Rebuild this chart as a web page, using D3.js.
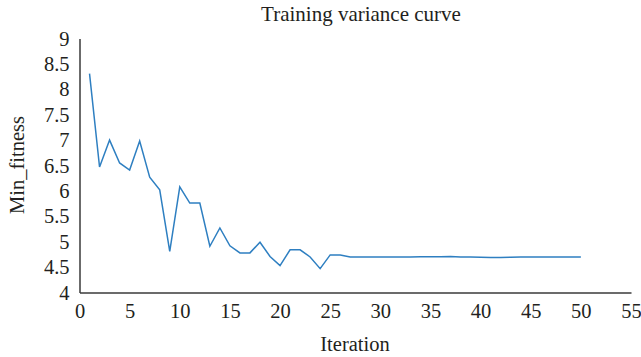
<!DOCTYPE html>
<html>
<head>
<meta charset="utf-8">
<script src="https://cdn.jsdelivr.net/npm/d3@7"></script>
<style>
  html, body { margin: 0; padding: 0; background: #fff; }
  text { font-family: "Liberation Serif", "DejaVu Serif", serif; fill: #231f20; }
</style>
</head>
<body>
<svg id="chart" width="641" height="357"></svg>
<script>
const iterations = d3.range(1, 51);
const minFitness = [
  8.31, 6.47, 7.00, 6.55, 6.41, 6.98, 6.27, 6.02, 4.81, 6.08,
  5.76, 5.76, 4.91, 5.27, 4.92, 4.78, 4.78, 4.99, 4.71, 4.53,
  4.84, 4.84, 4.70, 4.47, 4.74, 4.74, 4.70, 4.70, 4.70, 4.70,
  4.70, 4.70, 4.70, 4.705, 4.705, 4.705, 4.71, 4.70, 4.70, 4.695,
  4.69, 4.69, 4.695, 4.70, 4.70, 4.70, 4.70, 4.70, 4.70, 4.70
];
const xTicks = [0, 5, 10, 15, 20, 25, 30, 35, 40, 45, 50, 55];
const yTicks = [4, 4.5, 5, 5.5, 6, 6.5, 7, 7.5, 8, 8.5, 9];
const title = "Training variance curve";
const xLabel = "Iteration";
const yLabel = "Min_fitness";

const svg = d3.select("#chart");
const x = d3.scaleLinear().domain([0, 55]).range([79.5, 631]);
const y = d3.scaleLinear().domain([4, 9]).range([292.5, 38.5]);

const fontSize = 20.5;

// x axis
const xAxis = d3.axisBottom(x).tickValues(xTicks).tickSize(0).tickPadding(11).tickFormat(d3.format("d"));
const gx = svg.append("g").attr("transform", `translate(0,${y(4)})`).call(xAxis);
gx.select(".domain").attr("stroke", "#3a3a3a").attr("stroke-width", 1.5);
gx.selectAll("text").style("font-size", fontSize + "px").attr("fill", "#231f20");

// y axis
const yAxis = d3.axisLeft(y).tickValues(yTicks).tickSize(0).tickPadding(10).tickFormat(d => String(d));
const gy = svg.append("g").attr("transform", `translate(${x(0)},0)`).call(yAxis);
gy.select(".domain").attr("stroke", "#3a3a3a").attr("stroke-width", 1.5);
gy.selectAll("text").style("font-size", fontSize + "px").attr("fill", "#231f20");

// line
const line = d3.line().x((d, i) => x(iterations[i])).y(d => y(d));
svg.append("path")
  .datum(minFitness)
  .attr("d", line)
  .attr("fill", "none")
  .attr("stroke", "#2e7fc1")
  .attr("stroke-width", 1.5);

// titles
svg.append("text").attr("x", 361).attr("y", 21).attr("text-anchor", "middle")
  .style("font-size", "21px").text(title);
svg.append("text").attr("x", 355).attr("y", 351).attr("text-anchor", "middle")
  .style("font-size", fontSize + "px").text(xLabel);
svg.append("text").attr("transform", "translate(24,165) rotate(-90)").attr("text-anchor", "middle")
  .style("font-size", fontSize + "px").text(yLabel);
</script>
</body>
</html>
